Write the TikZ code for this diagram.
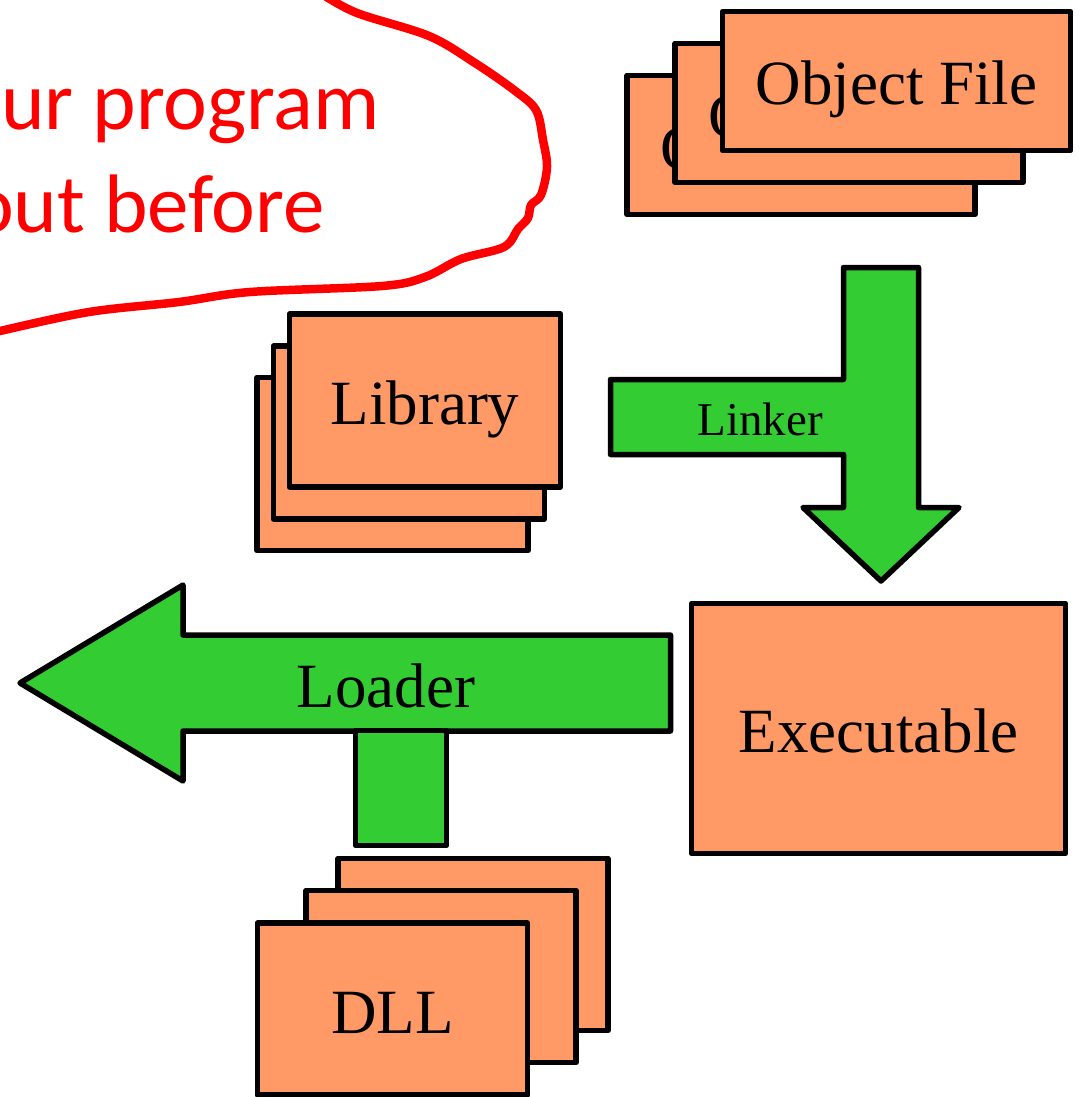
\documentclass[tikz,border=0pt]{standalone}
\usepackage{fontspec}
\setmainfont{Liberation Serif}
\newfontfamily\notefont{Carlito}
\definecolor{filecol}{RGB}{255,153,102}
\definecolor{stepcol}{RGB}{51,204,51}
\definecolor{inkred}{RGB}{255,0,0}

\begin{document}
\begin{tikzpicture}[x=1pt, y=-1pt, line join=round,
  card/.style={draw=black, line width=5.5pt, fill=filecol, rectangle, inner sep=0pt,
    font=\fontsize{63}{70}\selectfont, text height=48pt, text depth=0pt},
  objcard/.style={card, minimum width=348pt, minimum height=139pt},
  libcard/.style={card, minimum width=271pt, minimum height=173pt},
  dllcard/.style={card, minimum width=270pt, minimum height=172pt},
  flow/.style={draw=black, line width=5.5pt, fill=stepcol},
  flowlabel/.style={inner sep=0pt, anchor=base},
  note/.style={inner sep=0pt, text=inkred,
    font=\notefont\fontsize{83}{90}\selectfont},
]
\useasboundingbox (0,0) rectangle (1080,1097);
\clip (0,0) rectangle (1080,1097);

% hand-drawn remark
\draw[inkred, line width=8.5pt, line cap=round]
  plot[smooth, tension=0.55] coordinates {
    (322,-6) (357,13) (429,36) (475,63) (514,90) (536,110) (543,140)
    (547,167) (541,195) (531,205) (528,218) (518,229) (504,247) (461,259)
    (425,277) (382,286) (250,292) (179,302) (89,312) (0,331) (-10,334)};
\node[note, anchor=base west] (remark1) at (1,130) {ur program};
\node[note, anchor=base east] (remark2) at (325,232) {out before};

% object files
\node[objcard] (obj3) at (801,145) {Object File};
\node[objcard] (obj2) at (849,113) {Object File};
\node[objcard] (obj1) at (896.5,81) {Object File};

% libraries
\node[libcard] (lib3) at (392.5,464) {};
\node[libcard] (lib2) at (409,432.5) {};
\node[libcard] (lib1) at (425,400.5) {Library};

% linker arrow
\draw[flow] (843.5,267.5) -- (918.5,267.5) -- (918.5,507.5) -- (959,507.5)
  -- (881,581) -- (803,507.5) -- (843.5,507.5) -- (843.5,454.5)
  -- (610.5,454.5) -- (610.5,379.5) -- (843.5,379.5) -- cycle;
\node[flowlabel, font=\fontsize{47}{52}\selectfont] (linker) at (760,435) {Linker};

% executable
\node[card, minimum width=374pt, minimum height=250pt] (exe) at (878.5,728.5) {Executable};

% loader arrow
\draw[flow] (20,683) -- (183,585) -- (183,635) -- (670.5,635) -- (670.5,731)
  -- (183,731) -- (183,781) -- cycle;
\node[flowlabel, font=\fontsize{63}{70}\selectfont] (loader) at (386,707) {Loader};
\node[flow, rectangle, inner sep=0pt, minimum width=91pt, minimum height=115pt]
  (stem) at (401,788) {};

% DLLs
\node[dllcard] (dll3) at (473,944.5) {};
\node[dllcard] (dll2) at (441,976.5) {};
\node[dllcard] (dll1) at (392.5,1009) {DLL};
\end{tikzpicture}
\end{document}
